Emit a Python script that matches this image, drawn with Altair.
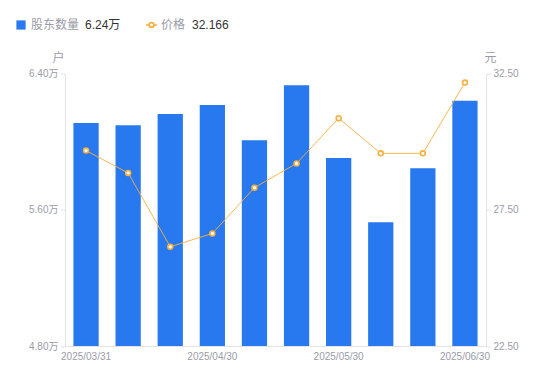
import altair as alt
import pandas as pd

dates = ["2025/03/31", "2025/04/10", "2025/04/20", "2025/04/30", "2025/05/09",
         "2025/05/20", "2025/05/30", "2025/06/10", "2025/06/20", "2025/06/30"]
holders = [6.109, 6.096, 6.162, 6.215, 6.008, 6.331, 5.904, 5.526, 5.843, 6.24]
prices = [29.67, 28.85, 26.14, 26.63, 28.31, 29.20, 30.86, 29.57, 29.57, 32.166]
shown_dates = ["2025/03/31", "2025/04/30", "2025/05/30", "2025/06/30"]

FONT = "'Liberation Sans', 'Noto Sans CJK SC', sans-serif"
GRAY = "#9b9ba8"
AXIS = "#e3e3e6"
BLUE = "#2878f0"
ORANGE = "#f7b03c"

df = pd.DataFrame({"date": dates, "holders": holders, "price": prices})

xenc = alt.X("date:N", sort=dates,
             scale=alt.Scale(paddingInner=0.4, paddingOuter=0.2),
             axis=alt.Axis(title=None, values=shown_dates, labelAngle=0, ticks=False,
                           labelPadding=5, labelColor=GRAY, labelFontSize=10,
                           domainColor=AXIS, labelFont=FONT))

bars = alt.Chart(df).mark_bar(color=BLUE, clip=True).encode(
    x=xenc,
    y=alt.Y("holders:Q", scale=alt.Scale(domain=[4.8, 6.4], nice=False, zero=False),
            axis=alt.Axis(values=[4.8, 5.6, 6.4], labelExpr="format(datum.value, '.2f') + '万'",
                          title="户", titleAngle=0, titleX=-7, titleY=-16, titleAlign="center",
                          titleBaseline="middle", titleColor=GRAY, titleFontSize=12,
                          titleFontWeight="normal", titleFont=FONT,
                          labelColor=GRAY, labelFontSize=10, labelFont=FONT,
                          tickColor=AXIS, tickSize=5, labelPadding=2,
                          domainColor=AXIS, grid=False)),
)

line = alt.Chart(df).mark_line(
    color=ORANGE, strokeWidth=1, opacity=0.9,
    point=alt.OverlayMarkDef(filled=True, fill="white", stroke=ORANGE, strokeWidth=1.6, size=24, opacity=1),
).encode(
    x=alt.X("date:N", sort=dates),
    y=alt.Y("price:Q", scale=alt.Scale(domain=[22.5, 32.5], nice=False, zero=False),
            axis=alt.Axis(orient="right", values=[22.5, 27.5, 32.5], format=".2f",
                          title="元", titleAngle=0, titleX=4, titleY=-16, titleAlign="center",
                          titleBaseline="middle", titleColor=GRAY, titleFontSize=12,
                          titleFontWeight="normal", titleFont=FONT,
                          labelColor=GRAY, labelFontSize=10, labelFont=FONT,
                          tickColor=AXIS, tickSize=5, labelPadding=2,
                          domainColor=AXIS, grid=False)),
)

# legend
leg = pd.DataFrame({"n1": ["股东数量"], "v1": [f"{holders[-1]:.2f}万"],
                    "n2": ["价格"], "v2": [f"{prices[-1]:.3f}"]})
base = alt.Chart(leg)
LY = -48.5
sq = base.mark_square(color=BLUE, size=85, opacity=1).encode(x=alt.value(-44), y=alt.value(LY))
t1 = base.mark_text(align="left", baseline="middle", fontSize=12, color=GRAY, font=FONT).encode(
    x=alt.value(-34), y=alt.value(LY), text="n1:N")
t2 = base.mark_text(align="left", baseline="middle", fontSize=12, color="#333333", font=FONT).encode(
    x=alt.value(20), y=alt.value(LY), text="v1:N")
lr = base.mark_rule(color=ORANGE, strokeWidth=1.5).encode(
    x=alt.value(81), x2=alt.value(92), y=alt.value(LY))
lp = base.mark_point(shape="circle", filled=True, fill="white", stroke=ORANGE, strokeWidth=1.8,
                     size=22, opacity=1).encode(x=alt.value(86.5), y=alt.value(LY))
t3 = base.mark_text(align="left", baseline="middle", fontSize=12, color=GRAY, font=FONT).encode(
    x=alt.value(96), y=alt.value(LY), text="n2:N")
t4 = base.mark_text(align="left", baseline="middle", fontSize=12, color="#333333", font=FONT).encode(
    x=alt.value(127), y=alt.value(LY), text="v2:N")

chart = alt.layer(bars, line, sq, t1, t2, lr, lp, t3, t4).resolve_scale(y="independent").properties(
    width=421, height=272.5,
    background="white",
    autosize=alt.AutoSizeParams(type="none"),
    padding={"left": 57, "top": 65.5, "right": 50, "bottom": 28},
).configure_view(stroke="transparent", strokeWidth=0)

chart.save("out.html", embed_options={"renderer": "svg", "actions": False})
